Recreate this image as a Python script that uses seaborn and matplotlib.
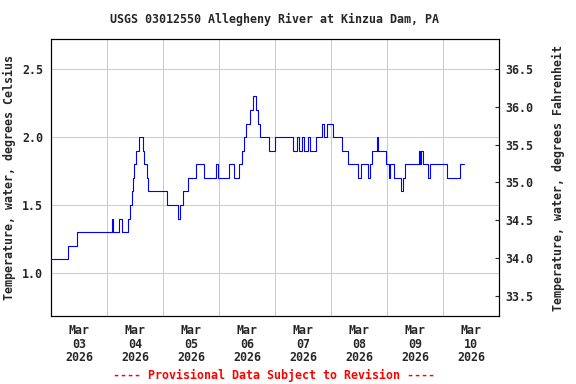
import pandas as pd
import matplotlib
matplotlib.use("Agg")
import matplotlib.pyplot as plt
import matplotlib.dates as mdates
import seaborn as sns

# === Data ===
# hours after Mar 03 2026 00:00 where the reading changes, and the new value (deg C)
hours = [0, 7.4, 11.3, 26.1, 26.7, 29.3, 30.6, 33.1, 33.9, 34.6, 35.1, 35.7,
         36.6, 37.9, 39.3, 40.0, 41.0, 41.7, 49.6, 54.6, 55.1, 56.7, 58.8,
         62.0, 65.4, 70.9, 71.4, 76.4, 78.6, 80.7, 81.9, 82.7, 83.6, 85.3,
         86.7, 87.9, 88.7, 89.6, 93.6, 95.9, 103.8, 105.4, 106.1, 107.7,
         108.6, 110.3, 110.9, 113.4, 116.3, 116.8, 118.1, 121.0, 124.9,
         127.4, 131.7, 132.7, 136.0, 136.7, 137.7, 139.7, 140.3, 143.4,
         144.9, 145.4, 146.8, 149.9, 150.7, 151.9, 157.7, 158.1, 158.5,
         159.6, 161.7, 162.3, 169.8, 175.2, 177.1]
temp_c = [1.1, 1.2, 1.3, 1.4, 1.3, 1.4, 1.3, 1.4, 1.5, 1.6, 1.7, 1.8,
          1.9, 2.0, 1.9, 1.8, 1.7, 1.6, 1.5, 1.4, 1.5, 1.6, 1.7,
          1.8, 1.7, 1.8, 1.7, 1.8, 1.7, 1.8, 1.9, 2.0, 2.1, 2.2,
          2.3, 2.2, 2.1, 2.0, 1.9, 2.0, 1.9, 2.0, 1.9, 2.0,
          1.9, 2.0, 1.9, 2.0, 2.1, 2.0, 2.1, 2.0, 1.9,
          1.8, 1.7, 1.8, 1.7, 1.8, 1.9, 2.0, 1.9, 1.8,
          1.7, 1.8, 1.7, 1.6, 1.7, 1.8, 1.9, 1.8, 1.9,
          1.8, 1.7, 1.8, 1.7, 1.8, 1.8]

start = pd.Timestamp("2026-03-03")
end = pd.Timestamp("2026-03-11")
c_ticks = [1.0, 1.5, 2.0, 2.5]
f_ticks = [33.5, 34.0, 34.5, 35.0, 35.5, 36.0, 36.5]

df = pd.DataFrame({"time": start + pd.to_timedelta(hours, unit="h"),
                   "temp": temp_c})

sns.set_style("white")
plt.rcParams["font.family"] = ["DejaVu Sans Mono"]
plt.rcParams["font.weight"] = "bold"
plt.rcParams["font.size"] = 8.4

fig, ax = plt.subplots(figsize=(5.76, 3.84), dpi=100)
fig.subplots_adjust(left=0.0885, right=0.8663, top=0.8984, bottom=0.1771)

sns.lineplot(data=df, x="time", y="temp", ax=ax, color="#0000ff",
             linewidth=0.8, estimator=None, drawstyle="steps-post")

ylim = (0.683, 2.723)
ax.set_xlim(start, end)
ax.set_ylim(*ylim)
ax.set_yticks(c_ticks)
ax.set_yticklabels([f"{v:.1f}" for v in c_ticks])

# gridlines at midnight, labels at noon
ax.xaxis.set_major_locator(mdates.DayLocator())
ax.xaxis.set_major_formatter(plt.NullFormatter())
ax.xaxis.set_minor_locator(mdates.HourLocator(byhour=12))
ax.xaxis.set_minor_formatter(mdates.DateFormatter("%b\n%d\n%Y"))
ax.tick_params(axis="x", which="both", length=0, pad=5.8)
ax.tick_params(axis="y", length=0, pad=5.8)
plt.setp(ax.xaxis.get_minorticklabels(), linespacing=1.05)
ax.grid(True, color="#cccccc", linewidth=0.75)
ax.set_axisbelow(True)
for s in ax.spines.values():
    s.set_color("black")
    s.set_linewidth(0.8)

ax.set_xlabel("")
ax.set_ylabel("Temperature, water, degrees Celsius", fontweight="bold")
ax.yaxis.set_label_coords(-0.079, 0.5)

ax2 = ax.twinx()
ax2.set_ylim(ylim[0] * 1.8 + 32, ylim[1] * 1.8 + 32)
ax2.set_yticks(f_ticks)
ax2.set_yticklabels([f"{v:.1f}" for v in f_ticks])
ax2.tick_params(axis="y", direction="in", length=3, width=0.8, pad=4.5)
ax2.set_ylabel("Temperature, water, degrees Fahrenheit", fontweight="bold")
ax2.yaxis.set_label_coords(1.118, 0.5)
ax2.grid(False)
for s in ax2.spines.values():
    s.set_color("black")
    s.set_linewidth(0.8)

fig.text(0.4774, 0.9505, "USGS 03012550 Allegheny River at Kinzua Dam, PA",
         ha="center", va="center", fontweight="bold")
fig.text(0.476, 0.0234, "---- Provisional Data Subject to Revision ----",
         ha="center", va="center", color="red", fontweight="bold")

fig.savefig("out.png", dpi=100)
